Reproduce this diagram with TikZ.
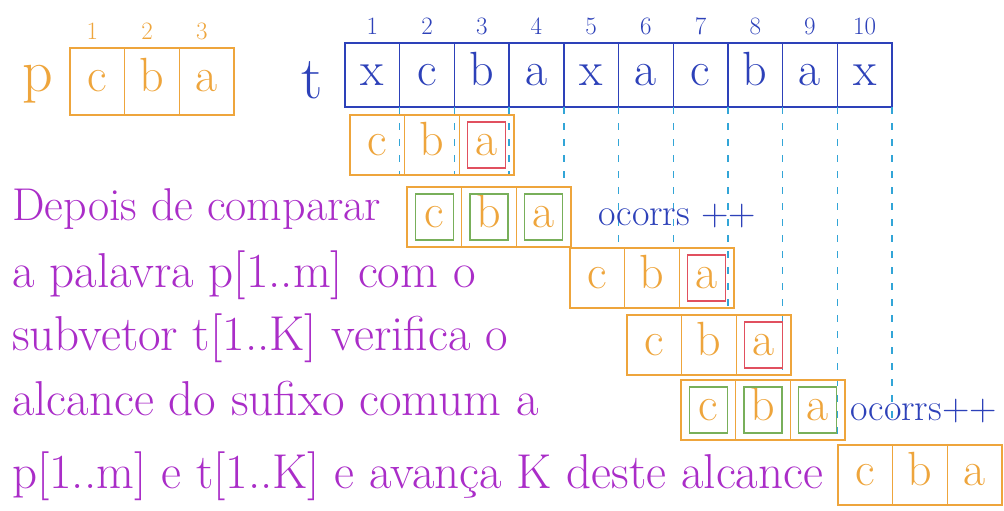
\documentclass[tikz,border=0pt]{standalone}
\usepackage{fontspec}
\usepackage{tikz}
\usetikzlibrary{positioning}
\definecolor{penorange}{RGB}{238,165,60}
\definecolor{penblue}{RGB}{45,65,185}
\definecolor{penpurple}{RGB}{170,45,200}
\definecolor{pencyan}{RGB}{50,165,215}
\definecolor{penred}{RGB}{225,80,95}
\definecolor{pengreen}{RGB}{120,175,90}
\tikzset{
  tcell/.style={rectangle, draw=penblue, line width=1.4pt, minimum width=54.7pt,
    minimum height=64pt, inner sep=0pt, outer sep=0pt, text=penblue,
    text height=21pt, text depth=0pt, font=\fontsize{48}{48}\selectfont},
  pcell/.style={rectangle, draw=penorange, line width=1.4pt, minimum width=54.7pt,
    minimum height=60pt, inner sep=0pt, outer sep=0pt, text=penorange,
    text height=21pt, text depth=0pt, font=\fontsize{48}{48}\selectfont},
  idx/.style={inner sep=0pt, font=\fontsize{25}{25}\selectfont},
  hit/.style={rectangle, draw=pengreen, line width=1.3pt, minimum width=38pt,
    minimum height=46pt, inner sep=0pt},
  miss/.style={rectangle, draw=penred, line width=1.3pt, minimum width=38pt,
    minimum height=46pt, inner sep=0pt},
  guide/.style={draw=pencyan, dash pattern=on 7pt off 9pt, line width=1.4pt},
  note/.style={anchor=base west, inner sep=0pt, text=penpurple,
    font=\fontsize{49}{49}\selectfont},
  count/.style={anchor=base west, inner sep=0pt, text=penblue,
    font=\fontsize{38}{38}\selectfont},
  arrname/.style={inner sep=0pt, font=\fontsize{60}{60}\selectfont},
}

\begin{document}
\begin{tikzpicture}[x=1pt, y=-1pt]
  \useasboundingbox (0,0) rectangle (1004,511);

  % ── Pattern p ──
  \node[arrname, text=penorange] (pname) at (38,84) {p};
  \node[pcell, minimum height=67pt] (p1) at (97.35,81.5) {c};
  \node[pcell, minimum height=67pt, right=0pt of p1] (p2) {b};
  \node[pcell, minimum height=67pt, right=0pt of p2] (p3) {a};
  \foreach \i in {1,2,3}
    \node[idx, text=penorange, above=8pt of p\i, xshift=-5pt] (pn\i) {\i};

  % ── Text t ──
  \node[arrname, text=penblue] (tname) at (312,80) {t};
  \node[tcell] (t1) at (372.35,75) {x};
  \foreach \ch [count=\i from 2, remember=\i as \j (initially 1)] in {c,b,a,x,a,c,b,a,x}
    \node[tcell, right=0pt of t\j] (t\i) {\ch};
  \foreach \i in {1,...,10}
    \node[idx, text=penblue, above=8pt of t\i] (tn\i) {\i};

  % ── Alignment guides ──
  \foreach \i/\e in {1/175,2/175,3/175,4/185,5/245,6/245,7/310,8/372,9/435,10/425} {
    \coordinate (g\i) at (t\i.south east |- 0,\e);
    \draw[guide] (t\i.south east) -- (g\i);
  }

  % ── Shifts of p along t ──
  \foreach \r/\lx/\cy in {1/350/145, 2/407/217, 3/570/278, 4/627/345, 5/681/410, 6/838/475} {
    \node[pcell] (r\r-c) at (\lx+27.35,\cy) {c};
    \node[pcell, right=0pt of r\r-c] (r\r-b) {b};
    \node[pcell, right=0pt of r\r-b] (r\r-a) {a};
  }

  % ── Comparisons ──
  \node[miss] (m1) at (r1-a) {};
  \node[miss] (m3) at (r3-a) {};
  \node[miss] (m4) at (r4-a) {};
  \foreach \r in {2,5}
    \foreach \ch in {c,b,a}
      \node[hit] (h\r-\ch) at (r\r-\ch) {};

  % ── Occurrences ──
  \node[count] (occ1) at (598,225) {ocorrs ++};
  \node[count] (occ2) at (850,420) {ocorrs++};

  % ── Explanation ──
  \node[note, font=\fontsize{46}{46}\selectfont] (line1) at (12,220) {Depois de comparar};
  \node[note] (line2) at (12,287) {a palavra p[1..m] com o};
  \node[note] (line3) at (12,350) {subvetor t[1..K] verifica o};
  \node[note] (line4) at (12,415) {alcance do sufixo comum a};
  \node[note] (line5) at (12,488) {p[1..m] e t[1..K] e avança K deste alcance};

\end{tikzpicture}
\end{document}
